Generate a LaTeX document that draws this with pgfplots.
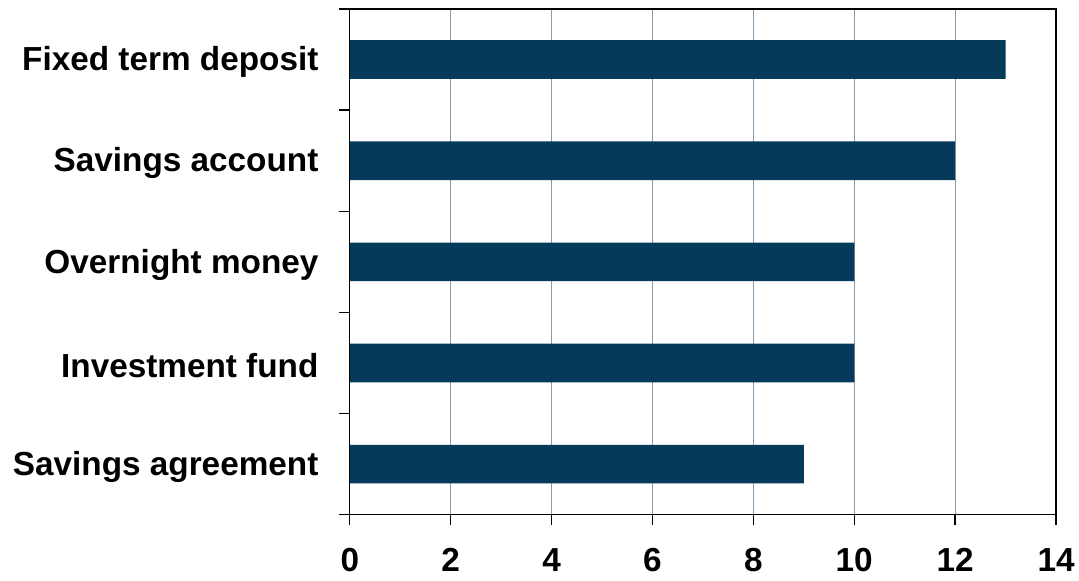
\documentclass[border=0pt]{standalone}
\usepackage{pgfplots}
\pgfplotsset{compat=1.18}
\usepackage{fontspec}
\setmainfont{Liberation Sans}
\definecolor{barblue}{RGB}{6,58,90}
\definecolor{gridblue}{RGB}{130,155,175}
\begin{document}
\begin{tikzpicture}
\begin{axis}[
    at={(0,0)}, anchor=south west,
    scale only axis,
    width=530pt, height=379.5pt,
    xmin=0, xmax=14,
    ymin=-0.5, ymax=4.5,
    xtick={0,2,...,14},
    ytick={-0.5,0.5,...,4.5},
    yticklabels={},
    extra y ticks={0,1,2,3,4},
    extra y tick labels={Savings agreement,Investment fund,Overnight money,Savings account,Fixed term deposit},
    extra y tick style={major tick length=0pt, yticklabel style={xshift=-20pt, yshift=-2pt}, grid=none},
    tick pos=left,
    tick align=outside,
    major tick length=8pt,
    xmajorgrids,
    grid style={gridblue, line width=0.8pt},
    axis line style={line width=1pt},
    tick style={black, line width=1pt},
    font=\fontsize{25}{30}\selectfont\bfseries,
    /pgf/number format/assume math mode=true,
    xticklabel style={yshift=-14pt},
]
\addplot[xbar, bar width=29pt, fill=barblue, draw=none] coordinates {
    (9,0)
    (10,1)
    (10,2)
    (12,3)
    (13,4)
};
\end{axis}
\path (-262.5pt,-49.5pt) rectangle (546.75pt,386.25pt);
\end{tikzpicture}
\end{document}
